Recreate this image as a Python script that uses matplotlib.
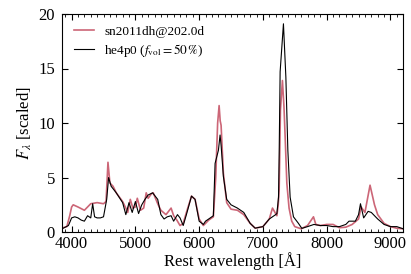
import matplotlib
matplotlib.use("Agg")
import matplotlib.pyplot as plt
from matplotlib.ticker import MultipleLocator

plt.rcParams['font.family'] = ['Liberation Serif', 'DejaVu Serif']
plt.rcParams['mathtext.fontset'] = 'stix'

# observed spectrum (sn2011dh @ 202.0d)
obs_wave = [3850, 3925, 3970, 4000, 4025, 4100, 4200, 4250, 4300, 4400, 4500, 4540,
            4570, 4600, 4650, 4700, 4800, 4850, 4880, 4920, 4960, 5000, 5030, 5080,
            5130, 5170, 5200, 5250, 5280, 5350, 5400, 5480, 5560, 5600, 5650, 5700,
            5750, 5800, 5880, 5936, 6000, 6066, 6100, 6150, 6223, 6260, 6290, 6313,
            6330, 6344, 6380, 6432, 6500, 6600, 6700, 6800, 6878, 7000, 7100, 7150,
            7219, 7240, 7255, 7275, 7306, 7330, 7349, 7375, 7410, 7452, 7500, 7600,
            7700, 7793, 7830, 7900, 8000, 8100, 8200, 8300, 8400, 8500, 8540, 8600,
            8680, 8750, 8800, 8900, 9000, 9100, 9200]
obs_flux = [0.37, 0.5, 1.5, 2.3, 2.5, 2.3, 2.0, 2.3, 2.6, 2.7, 2.6, 2.8,
            6.4, 4.5, 4.2, 3.6, 2.8, 2.2, 1.8, 3.0, 2.2, 2.3, 3.1, 2.0,
            2.2, 3.6, 3.1, 3.5, 3.6, 2.6, 2.0, 1.6, 2.2, 1.5, 1.1, 0.6,
            0.8, 1.8, 3.3, 3.0, 1.2, 0.6, 0.8, 1.1, 1.4, 5.0, 10.0, 11.6,
            10.2, 9.8, 5.4, 2.7, 2.1, 2.0, 1.6, 0.8, 0.36, 0.5, 1.2, 2.2,
            1.5, 2.5, 3.9, 11.2, 13.9, 11.5, 8.7, 4.5, 2.2, 1.0, 0.5, 0.3,
            0.6, 1.4, 0.7, 0.6, 0.7, 0.7, 0.4, 0.45, 0.7, 1.2, 2.3, 1.8,
            4.3, 2.5, 1.6, 0.8, 0.5, 0.35, 0.3]

# model spectrum (he4p0, f_vol = 50 %)
mod_wave = [3850, 3950, 4000, 4050, 4100, 4150, 4200, 4250, 4300, 4330, 4360, 4400,
            4450, 4500, 4550, 4580, 4620, 4700, 4800, 4850, 4900, 4950, 5000, 5050,
            5100, 5150, 5200, 5270, 5350, 5400, 5450, 5500, 5560, 5600, 5660, 5700,
            5750, 5800, 5880, 5936, 6000, 6066, 6100, 6150, 6223, 6250, 6302, 6328,
            6345, 6380, 6432, 6500, 6600, 6700, 6800, 6878, 7000, 7100, 7200, 7219,
            7245, 7255, 7270, 7322, 7360, 7391, 7427, 7479, 7557, 7610, 7700, 7800,
            7900, 8000, 8100, 8200, 8300, 8350, 8450, 8500, 8530, 8580, 8650, 8700,
            8800, 8900, 9000, 9100, 9200]
mod_flux = [0.3, 0.6, 1.3, 1.4, 1.3, 1.1, 1.0, 1.5, 1.3, 2.6, 1.4, 1.3,
            1.3, 1.4, 3.0, 5.0, 4.2, 3.6, 2.7, 1.6, 2.7, 1.8, 2.8, 1.7,
            2.5, 3.0, 3.4, 3.6, 3.0, 1.6, 1.2, 1.4, 1.5, 1.0, 1.6, 1.3,
            0.6, 1.6, 3.3, 3.0, 1.0, 0.7, 1.0, 1.2, 1.5, 6.3, 7.5, 8.9,
            7.9, 5.1, 3.0, 2.5, 2.2, 1.8, 0.8, 0.36, 0.5, 1.2, 1.6, 1.7,
            3.2, 7.2, 14.7, 19.1, 14.2, 7.5, 3.2, 1.4, 0.8, 0.34, 0.5, 0.7,
            0.6, 0.6, 0.5, 0.5, 0.7, 1.0, 1.0, 1.6, 2.6, 1.3, 1.9, 1.8,
            1.2, 0.7, 0.5, 0.5, 0.3]

fig = plt.figure(figsize=(4.11, 2.74), dpi=100)
ax = fig.add_axes([0.151, 0.153, 0.83, 0.796])

ax.plot(obs_wave, obs_flux, color='#cc6677', lw=1.2, label='sn2011dh@202.0d')
ax.plot(mod_wave, mod_flux, color='black', lw=0.8,
        label=r'he4p0 ($f_{\rm vol} = 50\,\%$)')

ax.set_xlim(3850, 9200)
ax.set_ylim(0, 20)
ax.xaxis.set_major_locator(MultipleLocator(1000))
ax.xaxis.set_minor_locator(MultipleLocator(100))
ax.yaxis.set_major_locator(MultipleLocator(5))
ax.tick_params(which='both', direction='in', top=True, right=True, labelsize=12)
ax.tick_params(which='major', length=4)
ax.tick_params(axis='x', which='major', pad=3)
ax.tick_params(axis='y', which='major', pad=5)
ax.tick_params(which='minor', length=2)

ax.set_xlabel('Rest wavelength [Å]', fontsize=12, labelpad=0)
ax.set_ylabel(r'$F_\lambda$ [scaled]', fontsize=12, labelpad=3)

ax.legend(loc='upper left', frameon=False, fontsize=9.5, handlelength=1.5,
          borderaxespad=0.5, labelspacing=0.3)

fig.savefig('out.png', dpi=100)
